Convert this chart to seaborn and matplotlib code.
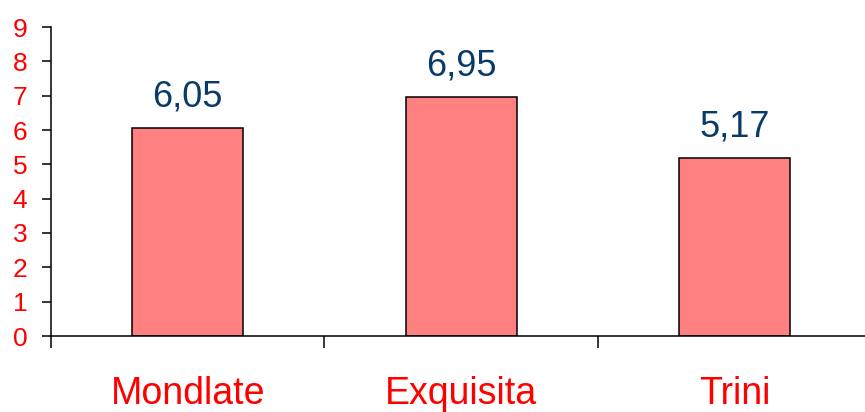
import matplotlib
matplotlib.use("Agg")
import matplotlib.pyplot as plt
import seaborn as sns
import pandas as pd

categories = ["Mondlate", "Exquisita", "Trini"]
values = [6.05, 6.95, 5.17]
y_ticks = [0, 1, 2, 3, 4, 5, 6, 7, 8, 9]

sns.set_style("white")
plt.rcParams['font.family'] = ['Liberation Sans', 'DejaVu Sans']

df = pd.DataFrame({"cat": categories, "val": values})

fig = plt.figure(figsize=(8.65, 4.12), dpi=100)
ax = fig.add_axes([51 / 865, 1 - 336 / 412, 820.5 / 865, (336 - 27) / 412])

sns.barplot(data=df, x="cat", y="val", ax=ax, color="#FF8080", width=0.405,
            edgecolor="black", linewidth=1.1, saturation=1)

ax.set_xlim(-0.5, 2.5)
ax.set_ylim(0, 9)
ax.set_yticks(y_ticks)
ax.set_yticklabels([str(t) for t in y_ticks], color="#FF0000", fontsize=19)
ax.set_xlabel("")
ax.set_ylabel("")

ax.set_xticks([0, 1, 2])
ax.set_xticklabels(categories, color="#FF0000", fontsize=27)
ax.set_xticks([-0.5, 0.5, 1.5], minor=True)
ax.tick_params(axis="x", which="major", length=0, pad=29)
ax.tick_params(axis="x", which="minor", length=8.6, width=1.1, color="black", direction="out", bottom=True)
ax.tick_params(axis="y", which="major", length=6.5, width=1.1, color="black", direction="out", left=True, pad=10.5)

for side in ["top", "right"]:
    ax.spines[side].set_visible(False)
for side in ["left", "bottom"]:
    ax.spines[side].set_color("black")
    ax.spines[side].set_linewidth(1.1)

labels = [f"{v:.2f}".replace(".", ",") for v in values]
ax.bar_label(ax.containers[0], labels=labels, padding=10, color="#0A3A6A", fontsize=26)

fig.savefig("out.png", dpi=100)
